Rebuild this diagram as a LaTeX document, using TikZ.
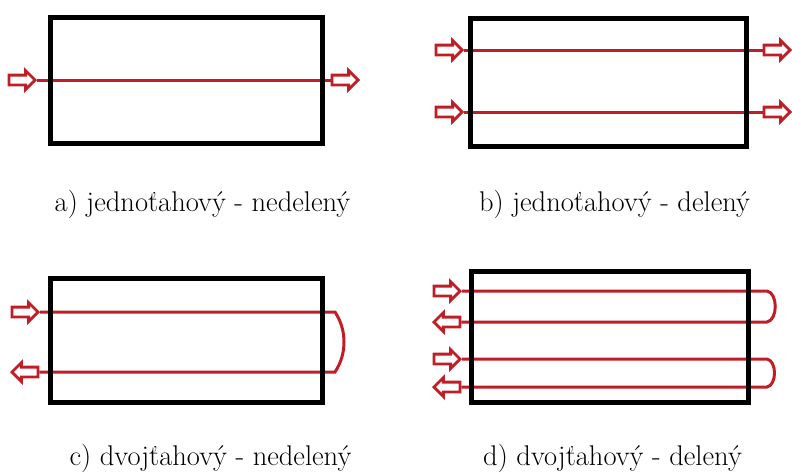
\documentclass[tikz,border=0pt]{standalone}
\usepackage{fontspec}
\usetikzlibrary{shapes.arrows}
\definecolor{flowred}{RGB}{192,30,38}
\tikzset{
  box/.style={draw=black, line width=5pt},
  flow/.style={draw=flowred, line width=3pt},
  rarrow/.style={single arrow, draw=flowred, fill=white, line width=2.8pt,
    minimum height=26pt, minimum width=17pt, single arrow head extend=4.5pt,
    inner xsep=0pt, inner ysep=3.5pt, single arrow tip angle=90, anchor=tip},
  larrow/.style={rarrow, shape border rotate=180},
  lbl/.style={font=\rmfamily\fontsize{28.5}{32}\selectfont, anchor=base, inner sep=0pt}
}
\begin{document}
\begin{tikzpicture}[x=1pt,y=-1pt]
\useasboundingbox[fill=white] (0,0) rectangle (792,472);
% arrows
\node[rarrow] (a1) at (37,80) {};
\node[rarrow] (a2) at (360,80) {};
\node[rarrow] (b1) at (464,50) {};
\node[rarrow] (b2) at (792,50) {};
\node[rarrow] (b3) at (464,112) {};
\node[rarrow] (b4) at (792,112) {};
\node[rarrow] (c1) at (40,312) {};
\node[larrow] (c2) at (10,372) {};
\node[rarrow] (d1) at (462,291) {};
\node[larrow] (d2) at (432,322) {};
\node[rarrow] (d3) at (462,359) {};
\node[larrow] (d4) at (432,387) {};
% turn points
\coordinate (ct) at (335,312);
\coordinate (cb) at (335,372);
\coordinate (dt1) at (767,291);
\coordinate (db1) at (767,322);
\coordinate (dt2) at (767,359);
\coordinate (db2) at (767,387);
% flows
\draw[flow] (a1.tip) -- (a2.tail);
\draw[flow] (b1.tip) -- (b2.tail);
\draw[flow] (b3.tip) -- (b4.tail);
\draw[flow] (c1.tip) -- (ct) .. controls (347,330) and (347,354) .. (cb) -- (c2.tail);
\draw[flow] (d1.tip) -- (dt1) .. controls (778,293) and (778,320) .. (db1) -- (d2.tail);
\draw[flow] (d3.tip) -- (dt2) .. controls (777,361) and (777,385) .. (db2) -- (d4.tail);
% boxes
\draw[box] (50,17.5) rectangle (322,143);
\draw[box] (470,18) rectangle (746,146);
\draw[box] (50,278) rectangle (322,402);
\draw[box] (471,271) rectangle (748,402);
% labels
\node[lbl] (la) at (202.5,211) {a) jednoťahový - nedelený};
\node[lbl] (lb) at (614.5,211) {b) jednoťahový - delený};
\node[lbl] (lc) at (210.5,465) {c) dvojťahový - nedelený};
\node[lbl] (ld) at (612.5,465) {d) dvojťahový - delený};
\end{tikzpicture}
\end{document}
